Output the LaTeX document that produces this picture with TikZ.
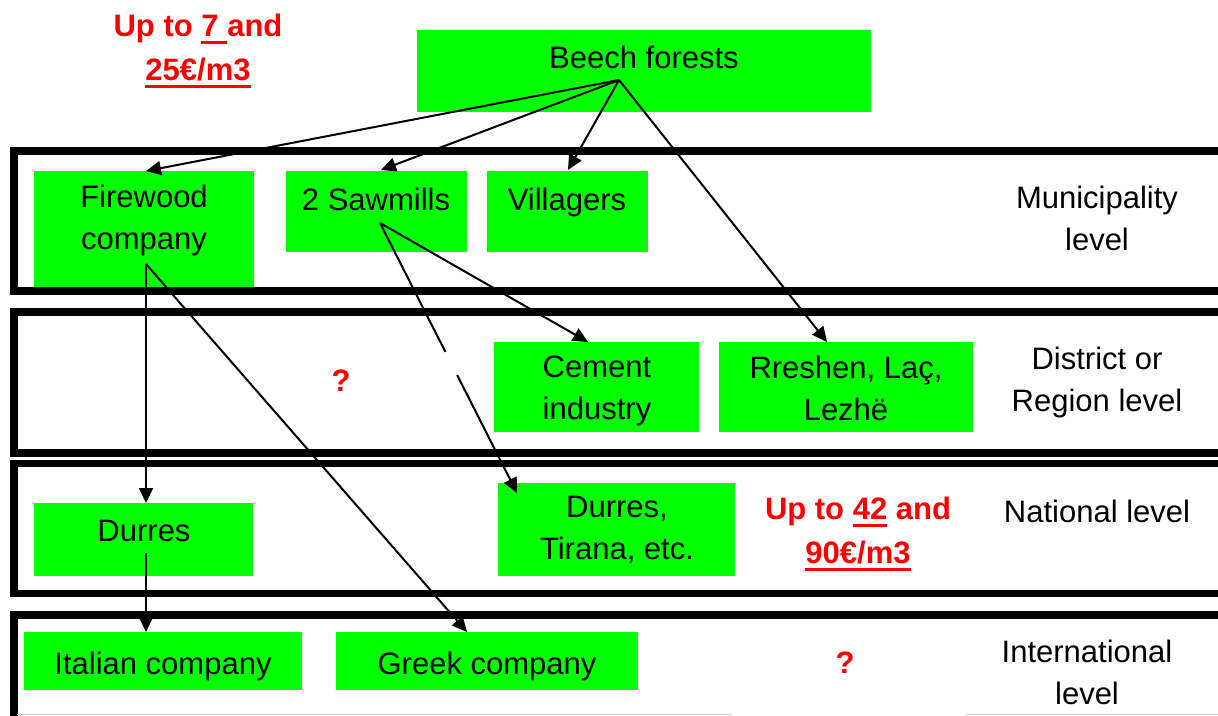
\documentclass[tikz,border=0pt]{standalone}
\usepackage{fontspec}
\setmainfont{Liberation Sans}
\usetikzlibrary{arrows.meta}
\definecolor{boxgreen}{RGB}{0,255,0}
\definecolor{pricered}{RGB}{255,0,0}
\newcommand\ulx[1]{\setbox0\hbox{#1}\rlap{\copy0}\raisebox{-7.5pt}{\rule{\wd0}{3.5pt}}}
\begin{document}
\begin{tikzpicture}[x=1pt,y=-1pt,
  box/.style={fill=boxgreen, draw=none, inner sep=0pt, anchor=north west},
  frame/.style={draw=black, line width=7.5pt},
  txt/.style={inner sep=0pt, align=center, anchor=north, font=\fontsize{31}{42}\selectfont, execute at begin node={\rule{0pt}{24pt}}},
  price/.style={txt, text=pricered, font=\fontsize{31}{44}\selectfont\bfseries},
  link/.style={line width=2pt, -{Triangle[length=15pt,width=14pt]}}]
\clip (0,0) rectangle (1218,715);
% boxes
\node[box, minimum width=454pt, minimum height=82pt] (beech) at (417,30) {};
\node[box, minimum width=220pt, minimum height=116pt] (firewood) at (34,171) {};
\node[box, minimum width=181pt, minimum height=81pt] (sawmills) at (286,171) {};
\node[box, minimum width=161pt, minimum height=81pt] (villagers) at (487,171) {};
\node[box, minimum width=205pt, minimum height=90pt] (cement) at (494,342) {};
\node[box, minimum width=254pt, minimum height=90pt] (rreshen) at (719,342) {};
\node[box, minimum width=219pt, minimum height=73pt] (durres) at (34,503) {};
\node[box, minimum width=237pt, minimum height=93pt] (tirana) at (498,483) {};
\node[box, minimum width=278pt, minimum height=58pt] (italian) at (24,632) {};
\node[box, minimum width=302pt, minimum height=58pt] (greek) at (336,632) {};
% level frames
\draw[frame] (14,151) rectangle (1240,291);
\draw[frame] (14,312) rectangle (1240,453);
\draw[frame] (14,463.5) rectangle (1240,593.5);
\draw[frame] (14,615) rectangle (1240,760);
\draw[gray!35, line width=1pt] (17,714) -- (732,714);
\draw[gray!35, line width=1pt] (966,714) -- (1218,714);
% connector end points
\coordinate (src) at (619,80);
\coordinate (sawsrc) at (380,223);
\coordinate (fwsrc) at (146,264);
\coordinate (dursrc) at (146,553);
\coordinate (fwin) at (146,171);
\coordinate (sawin) at (381,170);
\coordinate (vilin) at (568,170);
\coordinate (rrin) at (827,342);
\coordinate (cemin) at (588,342);
\coordinate (tirin) at (517,493);
\coordinate (durin) at (146,503);
\coordinate (itin) at (146,632);
\coordinate (grin) at (467,632);
% connectors
\draw[link] (src) -- (fwin);
\draw[link] (src) -- (sawin);
\draw[link] (src) -- (vilin);
\draw[link] (src) -- (rrin);
\draw[link] (sawsrc) -- (cemin);
\draw[link] (sawsrc) -- (tirin);
\draw[white, line width=4pt] (445.4,352) -- (457,375);
\draw[link] (fwsrc) -- (durin);
\draw[link] (fwsrc) -- (grin);
\draw[link] (dursrc) -- (itin);
% texts
\node[txt] (tbeech) at (644,44) {Beech forests};
\node[txt] (tfire) at (144,185) {Firewood\\company};
\node[txt] (tsaw) at (376,186) {2 Sawmills};
\node[txt] (tvil) at (567,186) {Villagers};
\node[txt] (tmun) at (1097,186) {Municipality\\level};
\node[txt] (tcem) at (597,356) {Cement\\industry};
\node[txt] (trr) at (846,356) {Rreshen, Laç,\\Lezhë};
\node[txt] (tdis) at (1097,347) {District or\\Region level};
\node[txt] (tdur) at (144,517) {Durres};
\node[txt] (ttir) at (617,496) {Durres,\\Tirana, etc.};
\node[txt] (tnat) at (1097,498) {National level};
\node[txt] (tit) at (163,650) {Italian company};
\node[txt] (tgr) at (487,650) {Greek company};
\node[txt] (tint) at (1087,640) {International\\level};
\node[price] (p1) at (198,14) {Up to \ulx{7 }and\\\ulx{25€/m3}};
\node[price] (p2) at (858,497) {Up to \ulx{42} and\\\ulx{90€/m3}};
\node[price] (q1) at (341,367) {?};
\node[price] (q2) at (845,649) {?};
\end{tikzpicture}
\end{document}
